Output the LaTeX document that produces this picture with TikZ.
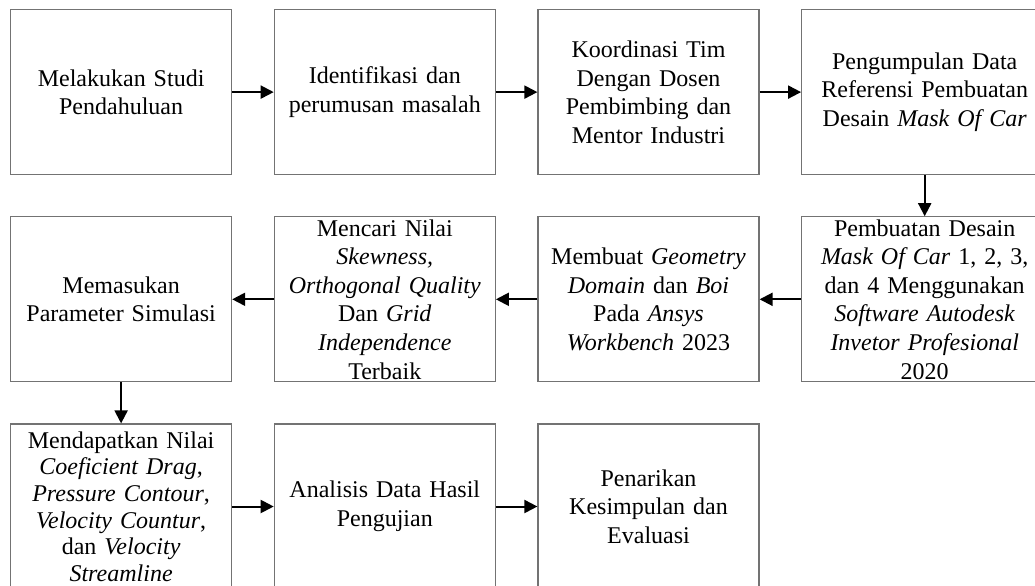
\documentclass[tikz,border=0pt]{standalone}
\usepackage{fontspec}
\setmainfont{Liberation Serif}
\usepackage{tikz}
\usetikzlibrary{arrows.meta,positioning}

\begin{document}
\begin{tikzpicture}[
  node distance=20.5pt and 20.75pt,
  stepbox/.style={draw=black!55,line width=0.6pt,align=center,text width=110.5pt,minimum width=110.5pt,minimum height=82.5pt,inner xsep=0pt,inner ysep=0pt,font=\fontsize{12}{14.3}\selectfont},
  widebox/.style={stepbox,text width=123pt,minimum width=123pt},
  flow/.style={-{Triangle[length=6.5pt,width=6.5pt]},line width=1pt}
]
\useasboundingbox (0,0) rectangle (517.5pt,-292.5pt);
% baris pertama
\node[stepbox,anchor=north west] (n1) at (5pt,-4.5pt) {Melakukan Studi\\Pendahuluan};
\node[stepbox,right=of n1] (n2) {Identifikasi dan\\perumusan masalah};
\draw[flow] (n1) -- (n2);
\node[stepbox,right=of n2] (n3) {Koordinasi Tim\\Dengan Dosen\\Pembimbing dan\\Mentor Industri};
\draw[flow] (n2) -- (n3);
\node[widebox,right=of n3] (n4) {Pengumpulan Data\\Referensi Pembuatan\\Desain \textit{Mask Of Car}};
\draw[flow] (n3) -- (n4);
% baris kedua
\node[widebox,below=of n4] (n5) {Pembuatan Desain\\\textit{Mask Of Car} 1, 2, 3,\\dan 4 Menggunakan\\\textit{Software Autodesk}\\\textit{Invetor Profesional}\\2020};
\draw[flow] (n4) -- (n5);
\node[stepbox,left=of n5] (n6) {Membuat \textit{Geometry}\\\textit{Domain} dan \textit{Boi}\\Pada \textit{Ansys}\\\textit{Workbench} 2023};
\draw[flow] (n5) -- (n6);
\node[stepbox,left=of n6] (n7) {Mencari Nilai\\\textit{Skewness,}\\\textit{Orthogonal Quality}\\Dan \textit{Grid}\\\textit{Independence}\\Terbaik};
\draw[flow] (n6) -- (n7);
\node[stepbox,left=of n7] (n8) {Memasukan\\Parameter Simulasi};
\draw[flow] (n7) -- (n8);
% baris ketiga
\node[stepbox,below=of n8,font=\fontsize{12}{13.3}\selectfont] (n9) {Mendapatkan Nilai\\\textit{Coeficient Drag},\\\textit{Pressure Contour},\\\textit{Velocity Countur},\\dan \textit{Velocity}\\\textit{Streamline}};
\draw[flow] (n8) -- (n9);
\node[stepbox,right=of n9] (n10) {Analisis Data Hasil\\Pengujian};
\draw[flow] (n9) -- (n10);
\node[stepbox,right=of n10] (n11) {Penarikan\\Kesimpulan dan\\Evaluasi};
\draw[flow] (n10) -- (n11);
\end{tikzpicture}
\end{document}
